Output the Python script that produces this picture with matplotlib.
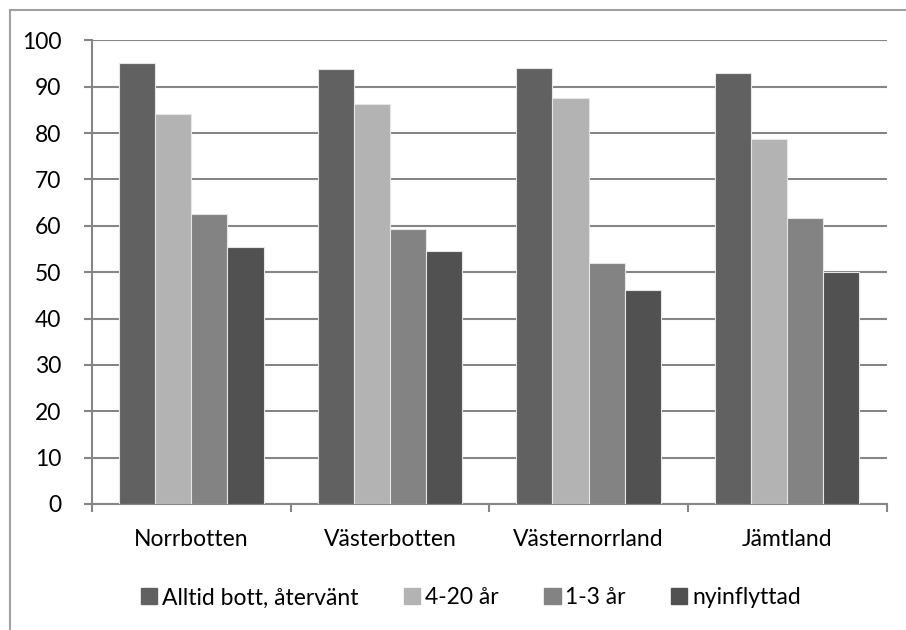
import matplotlib
matplotlib.use("Agg")
import matplotlib.pyplot as plt
import matplotlib.patches as mpatches
import numpy as np

# data
regions = ["Norrbotten", "Västerbotten", "Västernorrland", "Jämtland"]
series_names = ["Alltid bott, återvänt", "4-20 år", "1-3 år", "nyinflyttad"]
alltid = [95.2, 93.8, 94.0, 92.9]
ar_4_20 = [84.1, 86.3, 87.5, 78.8]
ar_1_3 = [62.5, 59.4, 51.9, 61.6]
nyinflyttad = [55.4, 54.5, 46.2, 50.0]
colors = ["#616161", "#b3b3b3", "#838383", "#515151"]

plt.rcParams["font.family"] = ["Lato", "DejaVu Sans"]

fig = plt.figure(figsize=(9.06, 6.3), dpi=100)
ax = fig.add_axes([0.1015, 0.2, 0.877, 0.736])

x = np.arange(len(regions))
w = 1 / 5.5
all_series = [alltid, ar_4_20, ar_1_3, nyinflyttad]
for i, vals in enumerate(all_series):
    ax.bar(x + (i - 1.5) * w, vals, width=w, color=colors[i],
           edgecolor="#e6e6e6", linewidth=0.8, zorder=3)

ax.set_xlim(-0.5, len(regions) - 0.5)
ax.set_ylim(0, 100)
ax.set_yticks(np.arange(0, 101, 10))
ax.yaxis.grid(True, color="#868686", linewidth=1.5, zorder=0)
ax.set_axisbelow(True)

# x ticks between categories, labels centered
ax.set_xticks(np.arange(-0.5, len(regions), 1))
ax.set_xticklabels([])
ax.set_xticks(x, minor=True)
ax.set_xticklabels(regions, minor=True)
ax.tick_params(axis="x", which="minor", length=0, pad=18, labelsize=16.5)
ax.tick_params(axis="x", which="major", length=6, width=1.5, color="#868686")
ax.tick_params(axis="y", length=6, width=1.5, color="#868686", labelsize=16.5, pad=16)

for s in ["top", "right"]:
    ax.spines[s].set_visible(False)
for s in ["left", "bottom"]:
    ax.spines[s].set_color("#868686")
    ax.spines[s].set_linewidth(1.5)

handles = [mpatches.Patch(color=colors[i], label=series_names[i]) for i in range(4)]
fig.legend(handles=handles, loc="center", bbox_to_anchor=(0.52, 0.051), ncol=4,
           frameon=False, fontsize=16.5, handlelength=0.7, handleheight=0.7,
           handletextpad=0.2, columnspacing=2.0)

# outer chart border
fig.add_artist(plt.Line2D([0.0105, 0.0105], [0, 0.984], color="#a0a0a0", linewidth=1.5))
fig.add_artist(plt.Line2D([0.0105, 1.0], [0.984, 0.984], color="#a0a0a0", linewidth=1.5))

plt.savefig("out.png", dpi=100)
plt.close()
